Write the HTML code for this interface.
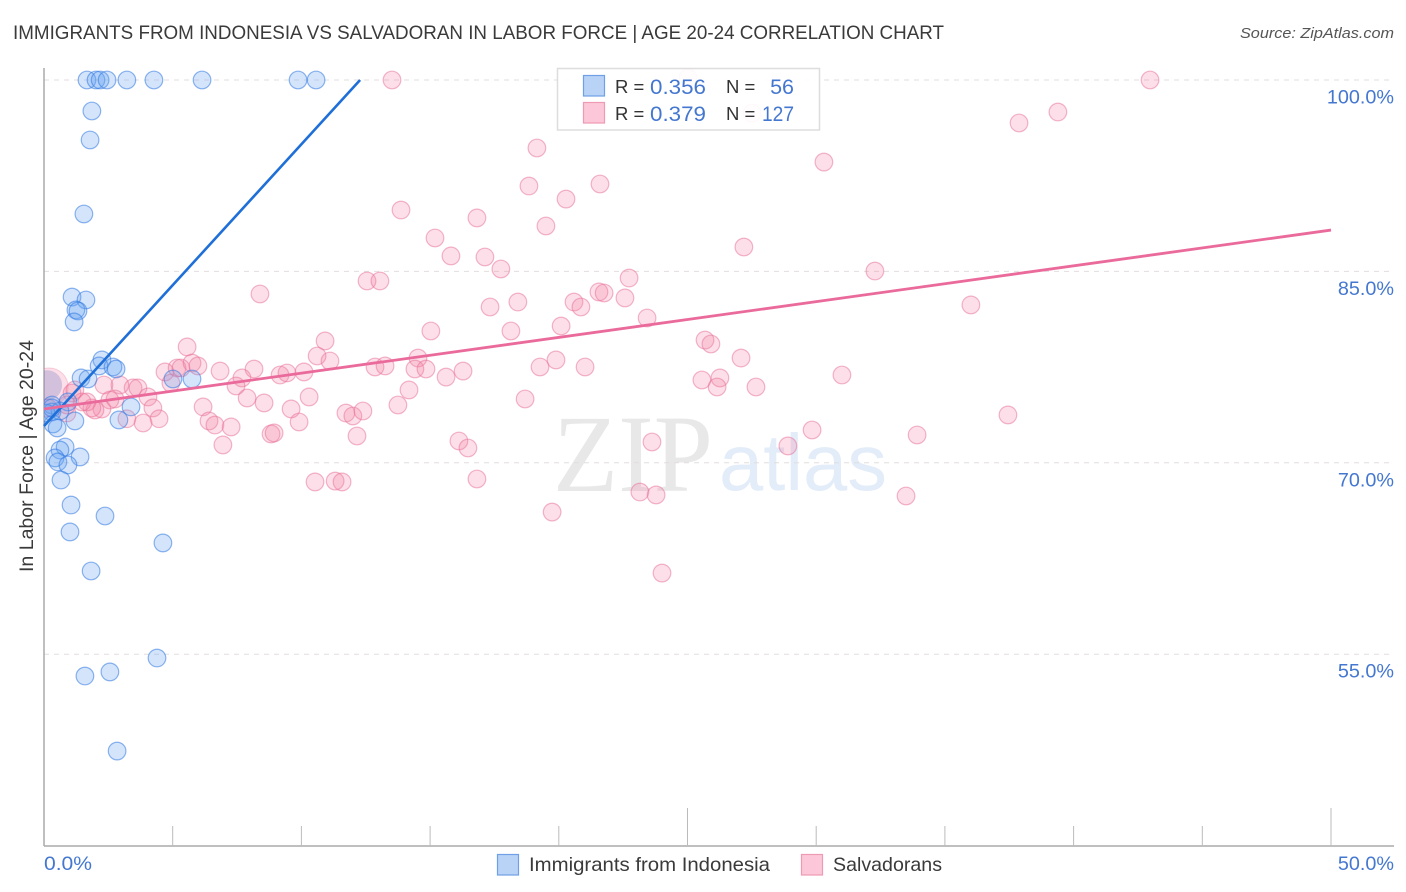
<!DOCTYPE html>
<html lang="en">
<head>
<meta charset="utf-8">
<title>Immigrants from Indonesia vs Salvadoran in Labor Force Correlation Chart</title>
<style>
html,body{margin:0;padding:0;background:#fff;width:1406px;height:892px;overflow:hidden}
svg{display:block;font-family:"Liberation Sans",sans-serif}
</style>
</head>
<body>
<svg id="chart" xmlns="http://www.w3.org/2000/svg" width="1406" height="892" viewBox="0 0 1406 892">
  <defs><clipPath id="plot-clip"><rect x="44" y="60" width="1350" height="786"/></clipPath></defs>
  <text x="13" y="39" font-size="19.5" fill="#3a3a3a" textLength="931" lengthAdjust="spacingAndGlyphs">IMMIGRANTS FROM INDONESIA VS SALVADORAN IN LABOR FORCE | AGE 20-24 CORRELATION CHART</text>
  <text x="1394" y="38" font-size="15" font-style="italic" fill="#555" text-anchor="end" textLength="154" lengthAdjust="spacingAndGlyphs">Source: ZipAtlas.com</text>
  <g>
    <text x="553" y="491" font-family="'Liberation Serif',serif" font-size="110" fill="#e8e8e8" textLength="160" lengthAdjust="spacingAndGlyphs">ZIP</text>
    <text x="719" y="490" font-size="80" fill="#e3ecf9" textLength="168" lengthAdjust="spacingAndGlyphs">atlas</text>
  </g>
  <g id="grid"></g>
  <g id="axes">
    <line x1="44" y1="68" x2="44" y2="846" stroke="#aaa" stroke-width="1.5"/>
    <line x1="44" y1="846" x2="1394" y2="846" stroke="#aaa" stroke-width="1.5"/>
  </g>
  <g id="ticks"></g>
  <g id="points" clip-path="url(#plot-clip)"></g>
  <g id="trends"></g>
  <g id="ylabels"></g>
  <text x="44" y="870" font-size="19.8" fill="#4477d0" textLength="48" lengthAdjust="spacingAndGlyphs">0.0%</text>
  <text x="1394" y="870" font-size="19.8" fill="#4477d0" text-anchor="end">50.0%</text>
  <text transform="translate(33,456) rotate(-90)" font-size="19" fill="#3a3a3a" text-anchor="middle" textLength="232" lengthAdjust="spacingAndGlyphs">In Labor Force | Age 20-24</text>

  <g>
    <rect x="557.5" y="68.5" width="262" height="61.5" fill="#fff" fill-opacity="0.92" stroke="#ddd" stroke-width="1.5"/>
    <rect x="583.5" y="75.5" width="21" height="20.5" fill="#b9d3f7" stroke="#6f9fe6" stroke-width="1.2"/>
    <rect x="583.5" y="102.5" width="21" height="20.5" fill="#fcc8d9" stroke="#ee9ab5" stroke-width="1.2"/>
    <text x="615" y="93" font-size="18.5" fill="#333">R =</text>
    <text x="650" y="94" font-size="21.5" fill="#4477d0" textLength="56" lengthAdjust="spacingAndGlyphs">0.356</text>
    <text x="726" y="93" font-size="18.5" fill="#333">N =</text>
    <text x="794" y="94" font-size="21.5" fill="#4477d0" text-anchor="end">56</text>
    <text x="615" y="120" font-size="18.5" fill="#333">R =</text>
    <text x="650" y="121" font-size="21.5" fill="#4477d0" textLength="56" lengthAdjust="spacingAndGlyphs">0.379</text>
    <text x="726" y="120" font-size="18.5" fill="#333">N =</text>
    <text x="794" y="121" font-size="21.5" fill="#4477d0" text-anchor="end" textLength="32" lengthAdjust="spacingAndGlyphs">127</text>
  </g>

  <g>
    <rect x="497.5" y="854.5" width="21" height="20.5" fill="#b9d3f7" stroke="#6f9fe6" stroke-width="1.2"/>
    <text x="529" y="871" font-size="19.5" fill="#3a3a3a" textLength="241" lengthAdjust="spacingAndGlyphs">Immigrants from Indonesia</text>
    <rect x="801.5" y="854.5" width="21" height="20.5" fill="#fcc8d9" stroke="#ee9ab5" stroke-width="1.2"/>
    <text x="833" y="871" font-size="19.5" fill="#3a3a3a" textLength="109" lengthAdjust="spacingAndGlyphs">Salvadorans</text>
  </g>
</svg>
<script>
const yTickValues = [100, 85, 70, 55];
const yTickLabels = ["100.0%", "85.0%", "70.0%", "55.0%"];
const xMinorTicks = [5, 10, 15, 20, 30, 35, 40, 45];
const xMajorTicks = [25, 50];

const indonesiaX = [1.67,2.02,2.18,2.45,3.22,4.27,6.14,9.87,10.57,1.86,1.79,1.55,1.09,1.63,1.24,1.32,1.17,2.25,2.14,2.68,2.80,1.44,1.71,5.01,5.75,3.38,2.91,1.20,0.31,0.31,0.35,0.51,0.93,0.62,0.82,0.62,1.40,0.43,0.54,0.93,0.66,1.05,2.37,1.01,4.62,1.83,4.39,2.56,1.59,2.84,0.08,0.31];
const indonesiaY = [100,100,100,100,100,100,100,100,100,97.57,95.30,89.50,82.99,82.76,81.98,81.90,81.04,78.06,77.59,77.51,77.35,76.65,76.57,76.57,76.57,74.38,73.36,73.28,74.53,73.98,73.04,72.73,74.77,74.06,71.24,71.00,70.46,70.38,70.07,69.83,68.65,66.69,65.83,64.58,63.72,61.52,54.70,53.61,53.29,47.41,73.90,74.30];
const salvadoranX = [13.52,42.97,25.02,27.51,37.88,39.39,19.15,30.30,18.84,20.28,21.60,13.87,16.82,19.50,15.19,27.19,15.81,17.13,17.75,32.28,22.73,12.55,13.05,8.39,21.56,21.76,20.59,20.86,22.57,18.41,17.33,36.01,23.43,20.09,15.03,18.14,25.68,25.91,10.92,5.56,10.61,11.11,14.53,27.08,19.89,19.27,12.86,13.25,21.02,14.41,14.84,16.28,15.62,4.70,5.17,5.32,5.75,5.98,4.93,6.84,8.16,7.69,7.46,7.89,8.55,6.18,6.41,6.64,7.27,6.95,8.82,8.94,9.17,9.44,10.10,10.30,9.60,9.91,11.73,12.00,12.39,12.16,10.53,11.31,11.58,3.46,3.65,4.04,4.23,4.47,3.85,3.22,2.33,2.95,2.76,2.56,2.25,1.98,1.86,1.67,1.48,1.20,1.09,0.89,0.89,0.16,14.18,13.75,18.69,16.12,16.47,16.82,19.74,23.15,23.78,24.01,23.62,29.84,28.90,33.92,33.49,37.45,31.00,25.56,26.26,26.15,27.66];
const salvadoranY = [100,100,100.16,97.41,96.63,97.49,94.67,93.57,91.69,90.67,91.85,89.81,89.19,88.56,87.62,86.91,86.21,86.13,85.19,85.03,84.48,84.25,84.25,83.23,83.39,83.31,82.60,82.21,82.92,82.60,82.21,82.37,81.35,80.72,80.33,80.33,79.62,79.31,79.55,79.08,78.37,77.98,78.21,78.21,78.06,77.51,77.51,77.59,77.51,77.35,77.35,77.19,76.72,77.12,77.43,77.43,77.82,77.59,76.25,77.19,77.35,76.65,76.02,75.08,74.69,74.38,73.28,72.96,72.81,71.40,72.26,72.34,76.88,77.04,77.12,75.16,74.22,73.20,73.90,73.67,74.06,72.10,68.50,68.57,68.50,75.87,75.87,75.16,74.30,73.45,73.12,73.45,76.10,76.10,75.00,74.92,74.22,74.14,74.30,74.77,74.77,75.71,75.47,73.90,74.53,74.30,75.71,74.53,75.00,71.71,71.16,68.73,66.14,67.71,67.48,61.36,71.63,72.57,71.32,72.18,67.40,73.75,76.88,76.49,76.65,75.94,75.94];
const clusterIndonesiaX = [0.12];
const clusterIndonesiaY = [76.08];
const clusterSalvadoranX = [0.2];
const clusterSalvadoranY = [75.94];
const trendIndonesiaX = [0, 12.28];
const trendIndonesiaY = [72.88, 100];
const trendSalvadoranX = [0, 50];
const trendSalvadoranY = [74.22, 88.24];

const NS = "http://www.w3.org/2000/svg";
function sx(v) { return 44 + v * 25.74; }
function sy(v) { return 80 + (100 - v) * 12.76; }
function make(parent, tag, attrs) {
  const el = document.createElementNS(NS, tag);
  for (const k in attrs) el.setAttribute(k, attrs[k]);
  parent.appendChild(el);
  return el;
}

const grid = document.getElementById("grid");
const ticks = document.getElementById("ticks");
const ylabels = document.getElementById("ylabels");
const points = document.getElementById("points");
const trends = document.getElementById("trends");

yTickValues.forEach(function (v, i) {
  const g = make(grid, "line", {x1: 44, x2: 1394, y1: sy(v), y2: sy(v), stroke: "#e2dede", "stroke-width": 1, "stroke-dasharray": "5 5"});
  
  
  const t = make(ylabels, "text", {x: 1394, y: sy(v) + 23.5, "font-size": 19.8, fill: "#4477d0", "text-anchor": "end"});
  t.textContent = yTickLabels[i];
  
  
});

xMinorTicks.forEach(function (v) {
  const l = make(ticks, "line", {x1: sx(v), x2: sx(v), y1: 826, y2: 846, stroke: "#bbb", "stroke-width": 1});
  
  
});
xMajorTicks.forEach(function (v) {
  const l = make(ticks, "line", {x1: sx(v), x2: sx(v), y1: 808, y2: 846, stroke: "#bbb", "stroke-width": 1});
  
  
});

const pinkStyle = {fill: "rgba(243,130,165,0.26)", stroke: "rgba(232,110,150,0.5)", "stroke-width": 1.2};
const blueStyle = {fill: "rgba(100,160,240,0.28)", stroke: "rgba(50,120,225,0.55)", "stroke-width": 1.2};

function dot(x, y, r, style) {
  return make(points, "circle", Object.assign({cx: sx(x), cy: sy(y), r: r}, style));
}

clusterSalvadoranX.forEach(function (x, i) {
  const c = dot(x, clusterSalvadoranY[i], 19, {fill: "rgba(243,130,165,0.26)", stroke: "rgba(232,110,150,0.3)", "stroke-width": 1});
  
  
});
salvadoranX.forEach(function (x, i) {
  const c = dot(x, salvadoranY[i], 8.8, pinkStyle);
  
  
});
clusterIndonesiaX.forEach(function (x, i) {
  const c = dot(x, clusterIndonesiaY[i], 15, {fill: "rgba(100,110,190,0.28)", stroke: "none"});
  
  
});
indonesiaX.forEach(function (x, i) {
  const c = dot(x, indonesiaY[i], 8.8, blueStyle);
  
  
});

const blueLine = make(trends, "line", {x1: sx(trendIndonesiaX[0]), y1: sy(trendIndonesiaY[0]), x2: sx(trendIndonesiaX[1]), y2: sy(trendIndonesiaY[1]), stroke: "#1f6fd8", "stroke-width": 2.6});


const pinkLine = make(trends, "line", {x1: sx(trendSalvadoranX[0]), y1: sy(trendSalvadoranY[0]), x2: sx(trendSalvadoranX[1]), y2: sy(trendSalvadoranY[1]), stroke: "#ea6b9b", "stroke-width": 2.8});


</script>
</body>
</html>
